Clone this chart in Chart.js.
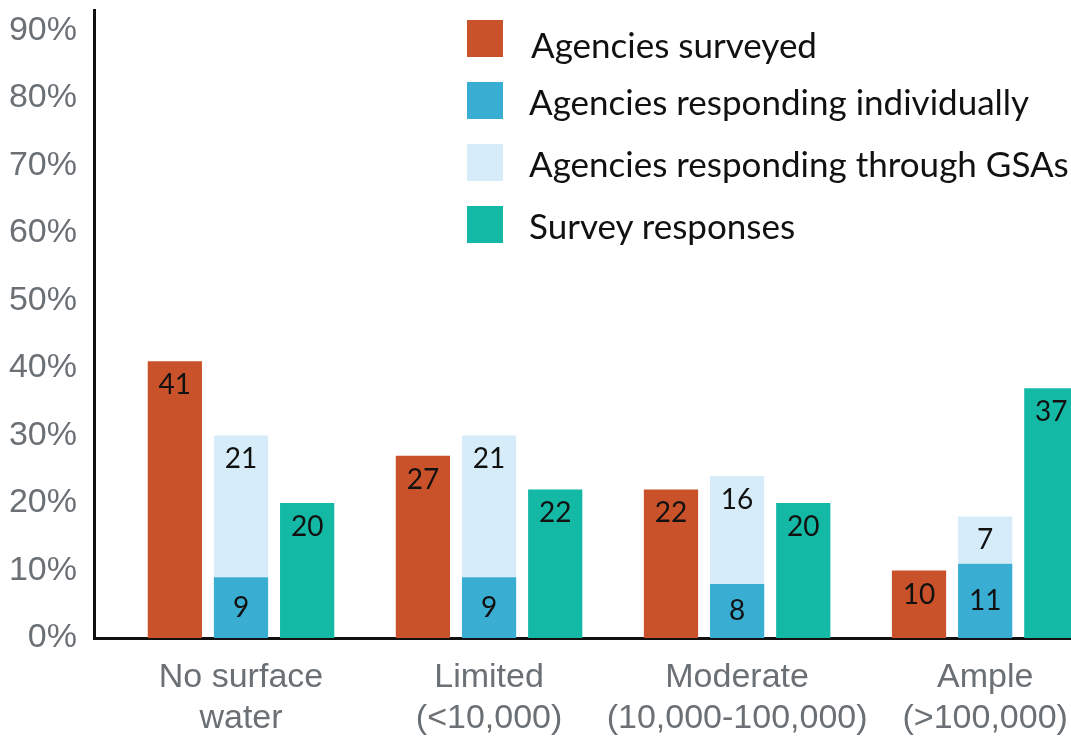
<!DOCTYPE html>
<html>
<head>
<meta charset="utf-8">
<title>Agencies by surface water supply</title>
<script src="https://cdn.jsdelivr.net/npm/chart.js@4/dist/chart.umd.min.js"></script>
<style>
    html, body { margin: 0; padding: 0; background: #fff; overflow: hidden; }
    #wrap { position: relative; width: 1071px; height: 736px; }
    #legend {
        position: absolute;
        left: 467px;
        top: 20px;
        font-family: Lato, "Open Sans", sans-serif;
        font-size: 35px;
        color: #111;
    }
    .legend-item { display: flex; align-items: center; height: 37px; margin-bottom: 25px; }
    .legend-box { width: 36px; height: 37px; margin-right: 26px; flex: none; }
    .legend-item:first-child span { padding-top: 10px; margin-left: 2px; }
</style>
</head>
<body>
<div id="wrap">
    <canvas id="chart" width="1071" height="736"></canvas>
    <div id="legend"></div>
</div>
<script>
// Surface water availability groups
const categories = [
    ['No surface', 'water'],
    ['Limited', '(<10,000)'],
    ['Moderate', '(10,000-100,000)'],
    ['Ample', '(>100,000)'],
];

const seriesNames = [
    'Agencies surveyed',
    'Agencies responding individually',
    'Agencies responding through GSAs',
    'Survey responses',
];

// Shares of each group, in percent
const surveyed = [41, 27, 22, 10];
const respondingIndividually = [9, 9, 8, 11];
const respondingThroughGSAs = [21, 21, 16, 7];
const surveyResponses = [20, 22, 20, 37];

const yTicks = [0, 10, 20, 30, 40, 50, 60, 70, 80, 90];

const colors = ['#c9522a', '#3aadd2', '#d6edf9', '#14b9a5'];
const seriesValues = [surveyed, respondingIndividually, respondingThroughGSAs, surveyResponses];
const stacks = ['surveyed', 'responding', 'responding', 'responses'];

// Value labels: near the top of each bar, centred for the lower stacked piece
const barLabels = {
    id: 'barLabels',
    afterDatasetsDraw(chart) {
        const ctx = chart.ctx;
        ctx.save();
        ctx.font = '28px Lato, "Open Sans", sans-serif';
        ctx.fillStyle = '#111';
        ctx.textAlign = 'center';
        ctx.textBaseline = 'middle';
        chart.data.datasets.forEach((ds, di) => {
            const meta = chart.getDatasetMeta(di);
            meta.data.forEach((bar, i) => {
                const y = ds.labelCentered ? (bar.y + bar.base) / 2 : bar.y + 24;
                ctx.fillText(String(ds.data[i].y), bar.x, y);
            });
        });
        ctx.restore();
    },
};

function buildLegend() {
    const legend = document.getElementById('legend');
    legend.innerHTML = seriesNames.map((name, i) => `
        <div class="legend-item">
            <div class="legend-box" style="background:${colors[i]}"></div>
            <span>${name}</span>
        </div>
    `).join('');
}

const datasets = seriesValues.map((values, i) => ({
    label: seriesNames[i],
    data: values.map((v, idx) => ({ x: idx, y: v })),
    backgroundColor: colors[i],
    stack: stacks[i],
    labelCentered: i === 1,
    borderWidth: 0,
    categoryPercentage: 0.8,
    barPercentage: 0.82,
}));

const axisFont = { family: '"Liberation Sans", Arial, sans-serif', size: 34, lineHeight: 1.18 };

buildLegend();

new Chart(document.getElementById('chart'), {
    type: 'bar',
    data: { datasets: datasets },
    options: {
        responsive: false,
        animation: false,
        events: [],
        layout: { padding: { top: 10, right: 0, bottom: 0, left: 0 }, autoPadding: false },
        plugins: {
            legend: { display: false },
            tooltip: { enabled: false },
        },
        scales: {
            x: {
                type: 'linear',
                stacked: true,
                offset: false,
                min: -0.5926,
                max: 3.346,
                grid: { display: false, drawTicks: false },
                border: { display: true, color: '#111', width: 3 },
                afterBuildTicks: (scale) => {
                    scale.ticks = categories.map((_, i) => ({ value: i }));
                },
                afterFit: (scale) => {
                    scale.height = 98;
                    scale.paddingLeft = 0;
                    scale.paddingRight = 0;
                },
                ticks: {
                    padding: 20,
                    color: '#6b7075',
                    font: axisFont,
                    maxRotation: 0,
                    autoSkip: false,
                    callback: (value) => categories[value],
                },
            },
            y: {
                stacked: true,
                min: 0,
                max: 93,
                grid: { display: false, drawTicks: false },
                border: { display: true, color: '#111', width: 3 },
                afterBuildTicks: (scale) => {
                    scale.ticks = yTicks.map(v => ({ value: v }));
                },
                afterFit: (scale) => {
                    scale.width = 94;
                    scale.paddingTop = 0;
                    scale.paddingBottom = 0;
                },
                ticks: {
                    padding: 17,
                    color: '#6b7075',
                    font: { family: '"Liberation Sans", Arial, sans-serif', size: 34 },
                    callback: (value) => value + '%',
                },
            },
        },
    },
    plugins: [barLabels],
});
</script>
</body>
</html>
